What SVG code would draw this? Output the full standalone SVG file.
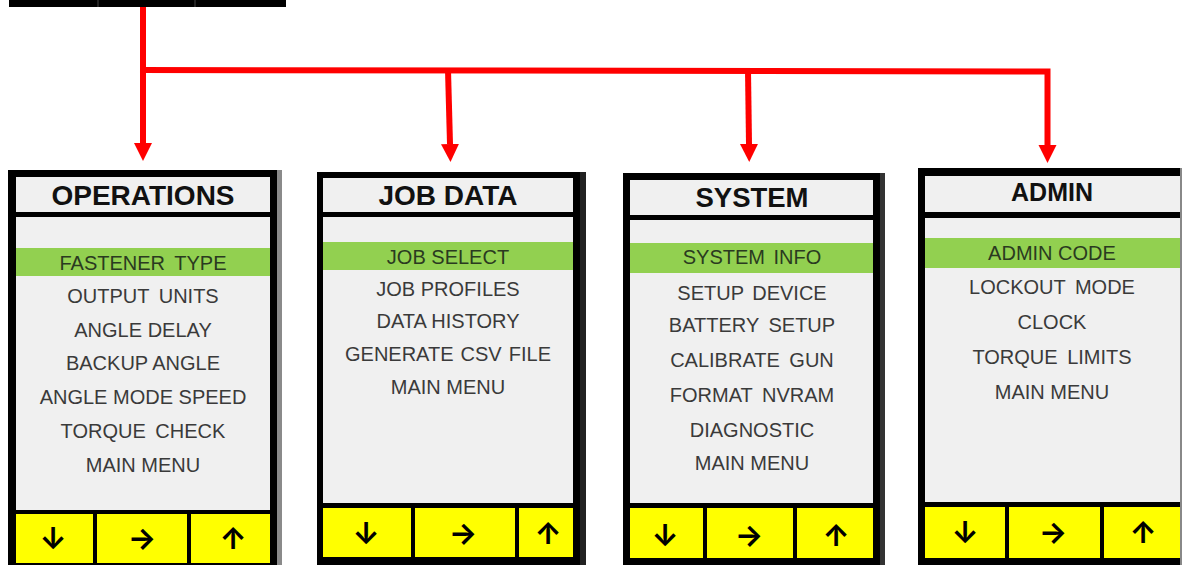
<svg xmlns="http://www.w3.org/2000/svg" width="1182" height="565" viewBox="0 0 1182 565">
<defs>
<marker id="ah" markerUnits="userSpaceOnUse" markerWidth="18" markerHeight="20" refX="0" refY="9" orient="auto" viewBox="0 0 18 18">
<path d="M0,0 L18,9 L0,18 Z" fill="#ff0000"/>
</marker>
</defs>
<style>
.frame{fill:#000}
.scr{fill:#f0f0f0}
.sel{fill:#92d050}
.btn{fill:#ffff00}
.title{font-family:"Liberation Sans",Arial,sans-serif;font-weight:bold;fill:#111;text-anchor:middle}
.item{font-family:"Liberation Sans",Arial,sans-serif;font-size:20px;fill:#3a3a3a;text-anchor:middle}
.item.on{fill:#2a3a20}
.arr{font-family:Inter,"DejaVu Sans",sans-serif;font-weight:700;font-size:30px;fill:#000;text-anchor:middle}
.conn{fill:none;stroke:#ff0000;stroke-width:6;stroke-linejoin:miter}
</style>
<rect width="1182" height="565" fill="#fff"/>
<g id="top-bar">
<rect x="9" y="0" width="277" height="7" fill="#000"/>
<line x1="98" y1="0" x2="98" y2="7" stroke="#444" stroke-width="1"/>
<line x1="195" y1="0" x2="195" y2="7" stroke="#444" stroke-width="1"/>
</g>
<g id="connectors">
<path class="conn" d="M143,7 V143" marker-end="url(#ah)"/>
<path class="conn" d="M140,70 L1047.5,71.5 V145" marker-end="url(#ah)"/>
<path class="conn" d="M448,70 L450,144" marker-end="url(#ah)"/>
<path class="conn" d="M748,70.5 L749,144" marker-end="url(#ah)"/>
</g>
<g id="operations">
<rect class="frame" x="8" y="170" width="270" height="395"/>
<rect x="277" y="170" width="5" height="395" fill="#8a8a8a"/>
<rect class="scr" x="16" y="177" width="254" height="35"/>
<rect class="scr" x="16" y="217" width="254" height="293"/>
<rect class="sel" x="16" y="248" width="254" height="28"/>
<rect class="btn" x="16" y="514" width="77" height="49"/>
<rect class="btn" x="97" y="514" width="90" height="49"/>
<rect class="btn" x="191" y="514" width="79" height="49"/>
<text class="title" x="143" y="205" font-size="28">OPERATIONS</text>
<text class="item on" x="143" y="270" word-spacing="4">FASTENER TYPE</text>
<text class="item" x="143" y="303" word-spacing="4">OUTPUT UNITS</text>
<text class="item" x="143" y="337">ANGLE DELAY</text>
<text class="item" x="143" y="370">BACKUP ANGLE</text>
<text class="item" x="143" y="404">ANGLE MODE SPEED</text>
<text class="item" x="143" y="438" word-spacing="4">TORQUE CHECK</text>
<text class="item" x="143" y="472">MAIN MENU</text>
<text class="arr" x="53" y="549">↓</text>
<text class="arr" x="142" y="549">→</text>
<text class="arr" x="233" y="549">↑</text>
</g>
<g id="job-data">
<rect class="frame" x="317" y="172" width="264" height="393"/>
<rect x="580" y="172" width="6" height="393" fill="#222"/>
<rect class="scr" x="323" y="178" width="250" height="34"/>
<rect class="scr" x="323" y="217" width="250" height="286"/>
<rect class="sel" x="323" y="242" width="250" height="28"/>
<rect class="btn" x="323" y="508" width="88" height="49"/>
<rect class="btn" x="415" y="508" width="100" height="49"/>
<rect class="btn" x="519" y="508" width="54" height="49"/>
<text class="title" x="448" y="205" font-size="28">JOB DATA</text>
<text class="item on" x="448" y="264">JOB SELECT</text>
<text class="item" x="448" y="296">JOB PROFILES</text>
<text class="item" x="448" y="328">DATA HISTORY</text>
<text class="item" x="448" y="361" word-spacing="1.5">GENERATE CSV FILE</text>
<text class="item" x="448" y="394">MAIN MENU</text>
<text class="arr" x="366" y="544">↓</text>
<text class="arr" x="463" y="544">→</text>
<text class="arr" x="548" y="544">↑</text>
</g>
<g id="system">
<rect class="frame" x="623" y="173" width="258" height="392"/>
<rect x="880" y="173" width="5" height="392" fill="#333"/>
<rect class="scr" x="630" y="180" width="243" height="35"/>
<rect class="scr" x="630" y="220" width="243" height="283"/>
<rect class="sel" x="630" y="243" width="243" height="30"/>
<rect class="btn" x="630" y="508" width="73" height="50"/>
<rect class="btn" x="707" y="508" width="86" height="50"/>
<rect class="btn" x="797" y="508" width="76" height="50"/>
<text class="title" x="752" y="207" font-size="27.5">SYSTEM</text>
<text class="item on" x="752" y="264" word-spacing="3">SYSTEM INFO</text>
<text class="item" x="752" y="300" word-spacing="3">SETUP DEVICE</text>
<text class="item" x="752" y="332" word-spacing="4">BATTERY SETUP</text>
<text class="item" x="752" y="367" word-spacing="4">CALIBRATE GUN</text>
<text class="item" x="752" y="402" word-spacing="4">FORMAT NVRAM</text>
<text class="item" x="752" y="437">DIAGNOSTIC</text>
<text class="item" x="752" y="470">MAIN MENU</text>
<text class="arr" x="665" y="546">↓</text>
<text class="arr" x="749" y="546">→</text>
<text class="arr" x="836" y="546">↑</text>
</g>
<g id="admin">
<rect class="frame" x="918" y="168" width="264" height="397"/>
<rect class="scr" x="925" y="176" width="255" height="36"/>
<rect class="scr" x="925" y="218" width="255" height="284"/>
<rect class="sel" x="925" y="238" width="255" height="30"/>
<rect class="btn" x="925" y="507" width="80" height="51"/>
<rect class="btn" x="1009" y="507" width="91" height="51"/>
<rect class="btn" x="1104" y="507" width="76" height="51"/>
<rect x="1180" y="168" width="2" height="397" fill="#888"/>
<text class="title" x="1052" y="201" font-size="25">ADMIN</text>
<text class="item on" x="1052" y="260">ADMIN CODE</text>
<text class="item" x="1052" y="294" word-spacing="4">LOCKOUT MODE</text>
<text class="item" x="1052" y="329">CLOCK</text>
<text class="item" x="1052" y="364" word-spacing="4">TORQUE LIMITS</text>
<text class="item" x="1052" y="399">MAIN MENU</text>
<text class="arr" x="965" y="543">↓</text>
<text class="arr" x="1053" y="543">→</text>
<text class="arr" x="1143" y="543">↑</text>
</g>
</svg>
